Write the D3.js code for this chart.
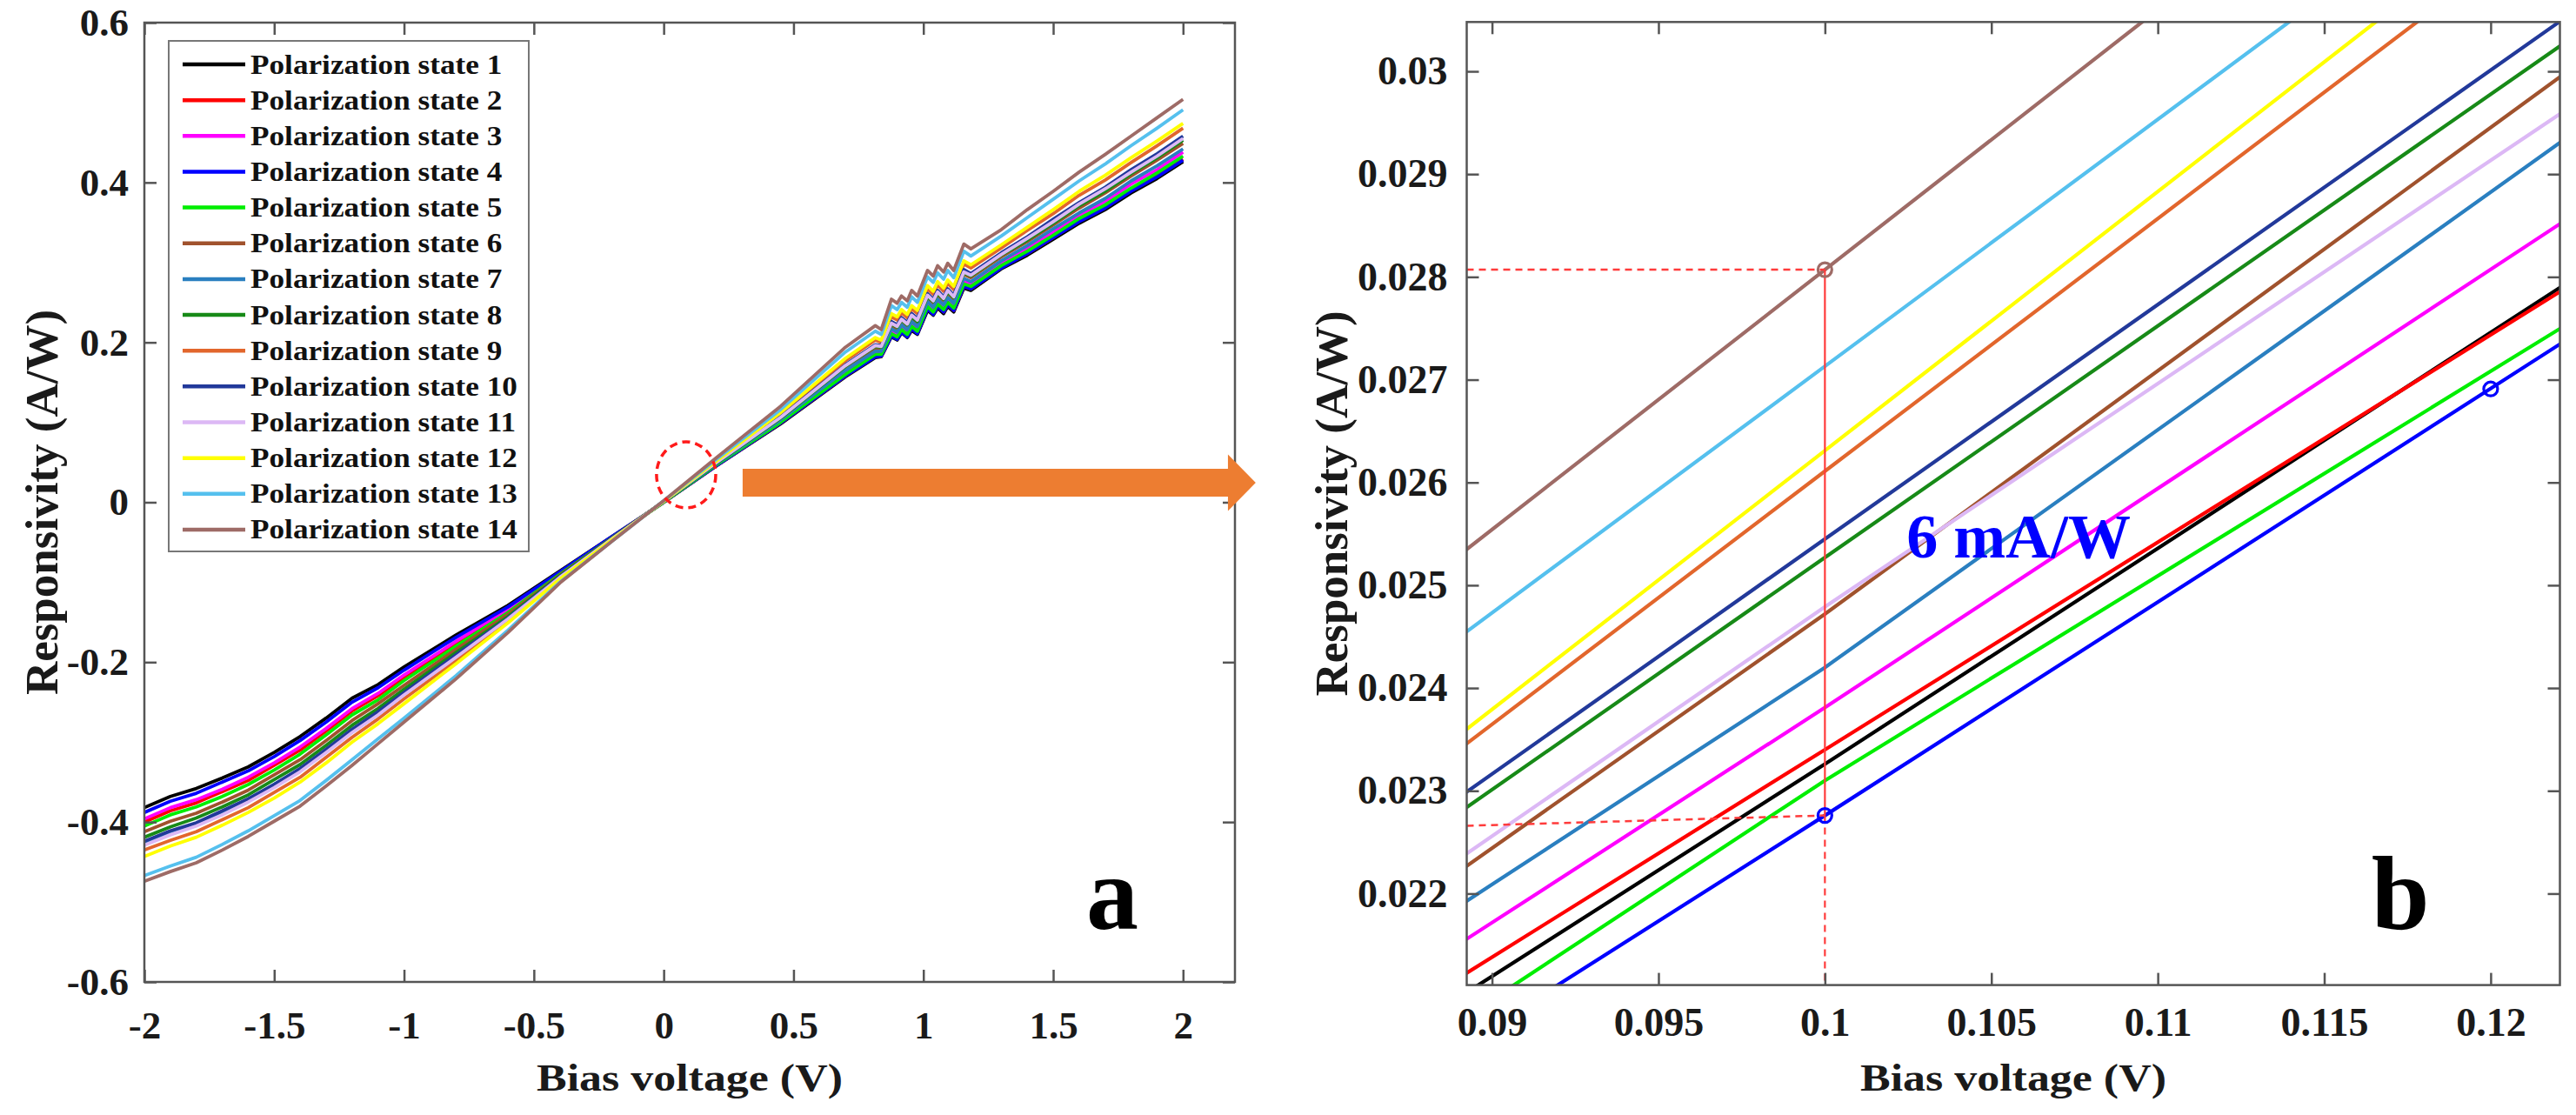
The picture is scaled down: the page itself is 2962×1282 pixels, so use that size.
<!DOCTYPE html>
<html>
<head>
<meta charset="utf-8">
<script src="https://cdn.jsdelivr.net/npm/d3@7"></script>
<style>
html, body { margin: 0; padding: 0; background: #fff; }
svg text { font-family: "Liberation Serif", "Times New Roman", serif; font-weight: bold; }
</style>
</head>
<body>
<div id="chart"></div>
<script>
// ---- data (panel a: full sweep) ----
const biasV = [-2, -1.9, -1.8, -1.7, -1.6, -1.5, -1.4, -1.3, -1.2, -1.1, -1.0, -0.8, -0.6, -0.4, -0.2, 0,
  0.2, 0.45, 0.7, 0.815, 0.838, 0.877, 0.899, 0.916, 0.938, 0.955, 0.977, 1.016, 1.038, 1.055, 1.078, 1.094, 1.117, 1.156, 1.183,
  1.3, 1.4, 1.5, 1.6, 1.7, 1.8, 1.9, 2.0];

const state1 = [-0.382,-0.368,-0.358,-0.345,-0.331,-0.313,-0.293,-0.270,-0.245,-0.228,-0.206,-0.166,-0.129,-0.086,-0.043,0.000,
  0.045,0.098,0.157,0.181,0.182,0.207,0.203,0.212,0.206,0.215,0.210,0.240,0.234,0.243,0.236,0.245,0.238,0.268,0.265,
  0.292,0.309,0.329,0.349,0.366,0.387,0.405,0.426];
const state2 = [-0.400,-0.386,-0.376,-0.362,-0.348,-0.329,-0.310,-0.286,-0.261,-0.242,-0.219,-0.177,-0.136,-0.089,-0.044,0.000,
  0.045,0.099,0.158,0.183,0.183,0.209,0.205,0.214,0.208,0.217,0.212,0.242,0.236,0.245,0.238,0.247,0.240,0.270,0.267,
  0.294,0.311,0.331,0.352,0.369,0.390,0.408,0.429];
const state3 = [-0.396,-0.382,-0.372,-0.359,-0.344,-0.326,-0.306,-0.283,-0.258,-0.239,-0.216,-0.174,-0.134,-0.088,-0.044,0.000,
  0.047,0.101,0.163,0.187,0.187,0.214,0.210,0.219,0.213,0.223,0.217,0.248,0.241,0.251,0.244,0.253,0.246,0.276,0.273,
  0.299,0.318,0.338,0.359,0.376,0.398,0.416,0.438];
const state4 = [-0.388,-0.374,-0.364,-0.350,-0.336,-0.318,-0.298,-0.275,-0.250,-0.232,-0.210,-0.169,-0.131,-0.087,-0.043,0.000,
  0.045,0.099,0.158,0.182,0.183,0.208,0.204,0.213,0.207,0.217,0.211,0.242,0.235,0.245,0.238,0.247,0.240,0.270,0.267,
  0.293,0.311,0.331,0.351,0.368,0.389,0.407,0.428];
const state5 = [-0.405,-0.391,-0.381,-0.368,-0.353,-0.335,-0.315,-0.291,-0.266,-0.247,-0.223,-0.180,-0.138,-0.090,-0.045,0.000,
  0.046,0.100,0.160,0.185,0.185,0.211,0.207,0.216,0.210,0.220,0.214,0.245,0.238,0.248,0.241,0.250,0.243,0.273,0.270,
  0.296,0.314,0.334,0.355,0.372,0.393,0.412,0.433];
const state6 = [-0.412,-0.399,-0.389,-0.375,-0.360,-0.341,-0.322,-0.298,-0.273,-0.252,-0.229,-0.184,-0.140,-0.091,-0.045,0.001,
  0.048,0.105,0.168,0.193,0.192,0.221,0.217,0.226,0.220,0.230,0.224,0.255,0.249,0.259,0.252,0.261,0.254,0.285,0.281,
  0.307,0.326,0.347,0.368,0.387,0.408,0.428,0.449];
const state7 = [-0.425,-0.412,-0.402,-0.387,-0.372,-0.353,-0.334,-0.310,-0.285,-0.263,-0.239,-0.192,-0.145,-0.093,-0.046,0.001,
  0.047,0.103,0.165,0.189,0.189,0.217,0.213,0.222,0.216,0.226,0.220,0.251,0.244,0.254,0.247,0.256,0.249,0.280,0.276,
  0.302,0.321,0.342,0.362,0.380,0.402,0.421,0.442];
const state8 = [-0.419,-0.406,-0.395,-0.381,-0.366,-0.347,-0.328,-0.304,-0.279,-0.258,-0.234,-0.188,-0.143,-0.092,-0.045,0.001,
  0.048,0.105,0.170,0.195,0.194,0.223,0.219,0.228,0.222,0.232,0.226,0.257,0.251,0.261,0.254,0.263,0.256,0.287,0.283,
  0.309,0.328,0.349,0.371,0.389,0.411,0.431,0.453];
const state9 = [-0.435,-0.423,-0.412,-0.397,-0.382,-0.363,-0.344,-0.319,-0.294,-0.271,-0.246,-0.198,-0.149,-0.095,-0.046,0.001,
  0.050,0.110,0.177,0.203,0.200,0.232,0.228,0.237,0.231,0.242,0.236,0.267,0.260,0.272,0.264,0.274,0.266,0.298,0.293,
  0.318,0.340,0.361,0.384,0.403,0.425,0.446,0.468];
const state10 = [-0.424,-0.411,-0.401,-0.386,-0.371,-0.353,-0.333,-0.309,-0.284,-0.262,-0.238,-0.191,-0.145,-0.093,-0.046,0.001,
  0.049,0.107,0.172,0.197,0.196,0.226,0.222,0.231,0.225,0.236,0.230,0.261,0.254,0.265,0.257,0.267,0.259,0.291,0.286,
  0.312,0.332,0.354,0.375,0.394,0.416,0.436,0.458];
const state11 = [-0.429,-0.416,-0.405,-0.391,-0.375,-0.357,-0.337,-0.313,-0.288,-0.266,-0.241,-0.194,-0.146,-0.094,-0.046,0.001,
  0.049,0.106,0.171,0.196,0.195,0.224,0.220,0.229,0.223,0.234,0.228,0.259,0.252,0.263,0.255,0.265,0.257,0.288,0.284,
  0.310,0.330,0.351,0.373,0.392,0.413,0.433,0.455];
const state12 = [-0.443,-0.430,-0.419,-0.404,-0.388,-0.370,-0.350,-0.326,-0.300,-0.277,-0.252,-0.202,-0.151,-0.096,-0.047,0.001,
  0.051,0.112,0.180,0.206,0.203,0.236,0.232,0.241,0.235,0.246,0.240,0.271,0.264,0.276,0.268,0.278,0.270,0.302,0.297,
  0.322,0.344,0.366,0.389,0.409,0.431,0.452,0.474];
const state13 = [-0.467,-0.455,-0.444,-0.428,-0.411,-0.392,-0.373,-0.348,-0.322,-0.296,-0.270,-0.217,-0.160,-0.100,-0.049,0.002,
  0.053,0.116,0.188,0.214,0.210,0.246,0.241,0.250,0.244,0.257,0.250,0.282,0.275,0.287,0.279,0.290,0.281,0.314,0.308,
  0.333,0.356,0.379,0.402,0.423,0.446,0.468,0.491];
const state14 = [-0.474,-0.462,-0.451,-0.435,-0.418,-0.399,-0.380,-0.355,-0.329,-0.302,-0.275,-0.221,-0.163,-0.101,-0.049,0.002,
  0.055,0.120,0.194,0.221,0.216,0.254,0.249,0.258,0.252,0.265,0.258,0.290,0.283,0.296,0.288,0.299,0.290,0.323,0.317,
  0.341,0.366,0.389,0.413,0.435,0.458,0.481,0.504];

// ---- data (panel b: zoom around 0.1 V) ----
const zoomV = [0.0892, 0.1, 0.1221];
const zoom1 = [0.02103, 0.02326, 0.02790];
const zoom2 = [0.02122, 0.02340, 0.02786];
const zoom3 = [0.02155, 0.02381, 0.02852];
const zoom4 = [0.02054, 0.02276, 0.02735];
const zoom5 = [0.02080, 0.02310, 0.02750];
const zoom6 = [0.02226, 0.02472, 0.02995];
const zoom7 = [0.02192, 0.02420, 0.02931];
const zoom8 = [0.02283, 0.02527, 0.03025];
const zoom9 = [0.02345, 0.02611, 0.03154];
const zoom10 = [0.02298, 0.02545, 0.03049];
const zoom11 = [0.02238, 0.02479, 0.02959];
const zoom12 = [0.02359, 0.02631, 0.03188];
const zoom13 = [0.02454, 0.02713, 0.03244];
const zoom14 = [0.02534, 0.02807, 0.03366];

const legendNames = ["Polarization state 1", "Polarization state 2", "Polarization state 3", "Polarization state 4",
  "Polarization state 5", "Polarization state 6", "Polarization state 7", "Polarization state 8", "Polarization state 9",
  "Polarization state 10", "Polarization state 11", "Polarization state 12", "Polarization state 13", "Polarization state 14"];

// tick values and labels
const ticksAx = [-2, -1.5, -1, -0.5, 0, 0.5, 1, 1.5, 2];
const labelsAx = ["-2", "-1.5", "-1", "-0.5", "0", "0.5", "1", "1.5", "2"];
const ticksAy = [-0.6, -0.4, -0.2, 0, 0.2, 0.4, 0.6];
const labelsAy = ["-0.6", "-0.4", "-0.2", "0", "0.2", "0.4", "0.6"];
const ticksBx = [0.09, 0.095, 0.1, 0.105, 0.11, 0.115, 0.12];
const labelsBx = ["0.09", "0.095", "0.1", "0.105", "0.11", "0.115", "0.12"];
const ticksBy = [0.022, 0.023, 0.024, 0.025, 0.026, 0.027, 0.028, 0.029, 0.03];
const labelsBy = ["0.022", "0.023", "0.024", "0.025", "0.026", "0.027", "0.028", "0.029", "0.03"];

// marked points in panel b
const markV = [0.1, 0.1, 0.12];
const markR = [0.02807, 0.02276, 0.02691];

const colors = ["#000000", "#ff0000", "#ff00ff", "#0000ff", "#00ee00", "#a0522d", "#2a7fc0",
  "#178a17", "#e2662c", "#22399a", "#dcb8f5", "#ffff00", "#55c0ee", "#9e6b66"];
const markColors = ["#9e6b66", "#0000ff", "#0000ff"];

const statesA = [state1, state2, state3, state4, state5, state6, state7, state8, state9, state10, state11, state12, state13, state14];
const statesB = [zoom1, zoom2, zoom3, zoom4, zoom5, zoom6, zoom7, zoom8, zoom9, zoom10, zoom11, zoom12, zoom13, zoom14];

// ---- layout ----
let wSvg = 2962; let hSvg = 1282;
const boxA = {left: 166, right: 1420, top: 26, bottom: 1129};
const boxB = {left: 1686.5, right: 2943.5, top: 25.3, bottom: 1132.6};
const axisColor = "#555";

let svg = d3.select("#chart")
    .append("svg")
    .attr("width", wSvg)
    .attr("height", hSvg)
    .style("background", "#fff");

const xA = d3.scaleLinear().domain([-2, 2.2]).range([boxA.left, boxA.right]);
const yA = d3.scaleLinear().domain([-0.6, 0.6]).range([boxA.bottom, boxA.top]);
const xB = d3.scaleLinear().domain([0.08924, 0.12208]).range([boxB.left, boxB.right]);
const yB = d3.scaleLinear().domain([0.02111, 0.03048]).range([boxB.bottom, boxB.top]);

function stretch(sel, factor) {
    sel.each(function () {
        const len = this.getComputedTextLength();
        d3.select(this).attr("textLength", len * factor).attr("lengthAdjust", "spacingAndGlyphs");
    });
}

function styleAxis(g, fontSize) {
    g.select(".domain").remove();
    g.selectAll(".tick line").attr("stroke", axisColor).attr("stroke-width", 2.5);
    g.selectAll(".tick text")
        .attr("fill", "#1a1a1a")
        .attr("font-family", "Liberation Serif, Times New Roman, serif")
        .attr("font-weight", "bold")
        .attr("font-size", fontSize);
}

function drawAxes(box, x, y, xt, xl, yt, yl, fontSize, padBottom, padLeft) {
    const g = svg.append("g");
    g.append("g").attr("transform", `translate(0,${box.bottom})`)
        .call(d3.axisBottom(x).tickValues(xt).tickFormat((d, i) => xl[i]).tickSizeInner(-14).tickSizeOuter(0).tickPadding(padBottom))
        .call(s => styleAxis(s, fontSize));
    g.append("g").attr("transform", `translate(0,${box.top})`)
        .call(d3.axisTop(x).tickValues(xt).tickFormat("").tickSizeInner(-14).tickSizeOuter(0))
        .call(s => styleAxis(s, fontSize));
    g.append("g").attr("transform", `translate(${box.left},0)`)
        .call(d3.axisLeft(y).tickValues(yt).tickFormat((d, i) => yl[i]).tickSizeInner(-14).tickSizeOuter(0).tickPadding(padLeft))
        .call(s => styleAxis(s, fontSize));
    g.append("g").attr("transform", `translate(${box.right},0)`)
        .call(d3.axisRight(y).tickValues(yt).tickFormat("").tickSizeInner(-14).tickSizeOuter(0))
        .call(s => styleAxis(s, fontSize));
    g.append("rect")
        .attr("x", box.left).attr("y", box.top)
        .attr("width", box.right - box.left).attr("height", box.bottom - box.top)
        .attr("fill", "none").attr("stroke", axisColor).attr("stroke-width", 2.5);
}

// clip paths
const defs = svg.append("defs");
defs.append("clipPath").attr("id", "clipA").append("rect")
    .attr("x", boxA.left).attr("y", boxA.top).attr("width", boxA.right - boxA.left).attr("height", boxA.bottom - boxA.top);
defs.append("clipPath").attr("id", "clipB").append("rect")
    .attr("x", boxB.left).attr("y", boxB.top).attr("width", boxB.right - boxB.left).attr("height", boxB.bottom - boxB.top);

// ===== panel a =====
const lineA = d3.line().x((d, i) => xA(biasV[i])).y(d => yA(d));
svg.append("g").attr("clip-path", "url(#clipA)")
    .selectAll("path")
    .data(statesA)
    .enter()
    .append("path")
    .attr("d", lineA)
    .attr("fill", "none")
    .attr("stroke", (d, i) => colors[i])
    .attr("stroke-width", 3.8)
    .attr("stroke-linejoin", "round");

drawAxes(boxA, xA, yA, ticksAx, labelsAx, ticksAy, labelsAy, 45, 33, 18);

// legend
const legend = svg.append("g");
legend.append("rect")
    .attr("x", 194).attr("y", 47).attr("width", 414).attr("height", 587)
    .attr("fill", "#fff").attr("stroke", "#777").attr("stroke-width", 2);
const rows = legend.selectAll("g.row")
    .data(legendNames)
    .enter()
    .append("g")
    .attr("class", "row")
    .attr("transform", (d, i) => `translate(0,${74 + i * 41.15})`);
rows.append("line")
    .attr("x1", 210).attr("x2", 282)
    .attr("stroke", (d, i) => colors[i])
    .attr("stroke-width", 4.5);
rows.append("text")
    .attr("x", 288).attr("y", 10.5)
    .attr("font-size", 32)
    .attr("fill", "#111")
    .text(d => d)
    .call(s => stretch(s, 1.1));

// red dashed circle around the zoomed region
const circA = {x: 0.0864, y: 0.0343, rx: 0.114, ry: 0.0413};
svg.append("ellipse")
    .attr("cx", xA(circA.x)).attr("cy", yA(circA.y))
    .attr("rx", xA(circA.x + circA.rx) - xA(circA.x))
    .attr("ry", yA(circA.y) - yA(circA.y + circA.ry))
    .attr("fill", "none").attr("stroke", "#ff1a1a").attr("stroke-width", 3.5)
    .attr("stroke-dasharray", "9,6");

// orange arrow pointing to panel b
const arrowA = {x0: 0.304, x1: 2.173, tip: 2.28, y: 0.0245, half: 0.0174, head: 0.0354};
const arrowPts = [
    [arrowA.x0, arrowA.y + arrowA.half], [arrowA.x1, arrowA.y + arrowA.half], [arrowA.x1, arrowA.y + arrowA.head],
    [arrowA.tip, arrowA.y], [arrowA.x1, arrowA.y - arrowA.head], [arrowA.x1, arrowA.y - arrowA.half],
    [arrowA.x0, arrowA.y - arrowA.half]
];
svg.append("polygon")
    .attr("points", arrowPts.map(p => [xA(p[0]), yA(p[1])].join(",")).join(" "))
    .attr("fill", "#ed7d31");

svg.append("text")
    .attr("x", xA(1.627)).attr("y", yA(-0.5337))
    .attr("font-size", 120).attr("fill", "#000")
    .text("a");

// axis titles a
svg.append("text")
    .attr("x", (boxA.left + boxA.right) / 2).attr("y", 1254)
    .attr("text-anchor", "middle").attr("font-size", 44).attr("fill", "#1a1a1a")
    .text("Bias voltage (V)")
    .call(s => stretch(s, 1.18));
svg.append("text")
    .attr("transform", `translate(66,${(boxA.top + boxA.bottom) / 2}) rotate(-90)`)
    .attr("text-anchor", "middle").attr("font-size", 53).attr("fill", "#1a1a1a")
    .text("Responsivity (A/W)");

// ===== panel b =====
const lineB = d3.line().x((d, i) => xB(zoomV[i])).y(d => yB(d));
svg.append("g").attr("clip-path", "url(#clipB)")
    .selectAll("path")
    .data(statesB)
    .enter()
    .append("path")
    .attr("d", lineB)
    .attr("fill", "none")
    .attr("stroke", (d, i) => colors[i])
    .attr("stroke-width", 4.2);

// guide lines for the two marked points
const guides = svg.append("g").attr("stroke", "#ff3b3b").attr("fill", "none");
guides.append("line")
    .attr("x1", xB(xB.domain()[0])).attr("y1", yB(markR[0]))
    .attr("x2", xB(markV[0])).attr("y2", yB(markR[0]))
    .attr("stroke-width", 2.5).attr("stroke-dasharray", "8,6");
guides.append("line")
    .attr("x1", xB(xB.domain()[0])).attr("y1", yB(0.02266))
    .attr("x2", xB(markV[1])).attr("y2", yB(markR[1]))
    .attr("stroke-width", 2.5).attr("stroke-dasharray", "8,6");
guides.append("line")
    .attr("x1", xB(markV[0])).attr("y1", yB(markR[0]))
    .attr("x2", xB(markV[1])).attr("y2", yB(markR[1]))
    .attr("stroke-width", 2.2);
guides.append("line")
    .attr("x1", xB(markV[1])).attr("y1", yB(markR[1]))
    .attr("x2", xB(markV[1])).attr("y2", yB(yB.domain()[0]))
    .attr("stroke-width", 2.2).attr("stroke-dasharray", "8,6");

svg.append("g")
    .selectAll("circle")
    .data(markV)
    .enter()
    .append("circle")
    .attr("cx", d => xB(d))
    .attr("cy", (d, i) => yB(markR[i]))
    .attr("r", 8)
    .attr("fill", "none")
    .attr("stroke", (d, i) => markColors[i])
    .attr("stroke-width", 3.2);

drawAxes(boxB, xB, yB, ticksBx, labelsBx, ticksBy, labelsBy, 46, 26, 22);

svg.append("text")
    .attr("x", xB(0.10245)).attr("y", yB(0.025274))
    .attr("font-size", 72).attr("fill", "#0000ff")
    .text("6 mA/W");

svg.append("text")
    .attr("x", xB(0.11642)).attr("y", yB(0.021653))
    .attr("font-size", 120).attr("fill", "#000")
    .text("b");

svg.append("text")
    .attr("x", (boxB.left + boxB.right) / 2).attr("y", 1254)
    .attr("text-anchor", "middle").attr("font-size", 44).attr("fill", "#1a1a1a")
    .text("Bias voltage (V)")
    .call(s => stretch(s, 1.18));
svg.append("text")
    .attr("transform", `translate(1549,${(boxB.top + boxB.bottom) / 2}) rotate(-90)`)
    .attr("text-anchor", "middle").attr("font-size", 53).attr("fill", "#1a1a1a")
    .text("Responsivity (A/W)");
</script>
</body>
</html>
